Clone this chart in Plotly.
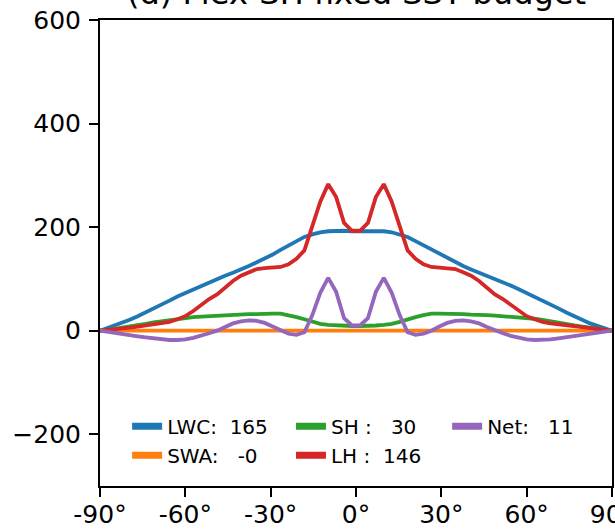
import plotly.graph_objects as go

lat = [-90, -87.86, -85.10, -82.31, -79.53, -76.74, -73.95, -71.16, -68.37, -65.58, -62.79,
       -60.00, -57.21, -54.42, -51.63, -48.84, -46.05, -43.26, -40.46, -37.67, -34.88,
       -32.09, -29.30, -26.51, -23.72, -20.93, -18.14, -15.35, -12.56, -9.77, -6.98, -4.19, -1.40,
       1.40, 4.19, 6.98, 9.77, 12.56, 15.35, 18.14, 20.93, 23.72, 26.51, 29.30, 32.09,
       34.88, 37.67, 40.46, 43.26, 46.05, 48.84, 51.63, 54.42, 57.21, 60.00, 62.79, 65.58,
       68.37, 71.16, 73.95, 76.74, 79.53, 82.31, 85.10, 87.86, 90]

lwc = [0, 4, 9, 14, 21, 28, 35, 43, 50, 58, 66, 73, 80, 87, 94, 100, 106, 112, 118, 125, 132,
       139, 147, 156, 165, 173, 181, 186, 190, 192, 193, 193, 192,
       192, 193, 193, 192, 190, 186, 181, 173, 165, 156, 147, 139, 132, 125, 118, 112, 106,
       100, 94, 87, 80, 73, 66, 58, 50, 43, 35, 28, 21, 14, 9, 4, 0]

swa = [0, 0, 0, 0, 0, 0, 0, 0, 0, 0, 0, 0, 0, 0, 0, 0, 0, 0, 0, 0, 0, 0, 0, 0, 0, 0, 0, 0, 0, 0, 0, 0, 0,
       0, 0, 0, 0, 0, 0, 0, 0, 0, 0, 0, 0, 0, 0, 0, 0, 0, 0, 0, 0, 0, 0, 0, 0, 0, 0, 0, 0, 0, 0, 0, 0, 0]

sh = [0, 1, 3, 6, 8, 10, 13, 16, 18, 21, 23, 25, 26, 27, 28, 29, 30, 31, 31, 32, 32, 33, 33, 33,
      30, 26, 22, 17, 13, 11, 10, 9, 9,
      9, 9, 10, 11, 13, 17, 22, 26, 30, 33, 33, 33, 32, 32, 31, 31, 30, 29, 28, 27, 26, 25, 23,
      21, 18, 16, 13, 10, 8, 6, 3, 1, 0]

lh = [0, 1, 2, 4, 6, 8, 10, 12, 14, 17, 22, 28, 38, 50, 61, 70, 83, 96, 106, 113, 119, 121, 122,
      123, 128, 139, 155, 201, 249, 283, 258, 208, 193,
      193, 208, 258, 283, 249, 201, 155, 139, 128, 123, 122, 121, 119, 113, 106, 96, 83, 70, 61,
      50, 38, 28, 22, 17, 14, 12, 10, 8, 6, 4, 2, 1, 0]

net = [0, -2, -4, -6, -8, -11, -13, -15, -17, -18, -18, -17, -14, -10, -5, 0, 7, 14, 18, 20, 19,
       15, 8, 0, -6, -8, -3, 30, 73, 102, 75, 24, 10,
       10, 24, 75, 102, 73, 30, -3, -8, -6, 0, 8, 15, 19, 20, 18, 14, 7, 0, -5, -10, -14, -17,
       -18, -18, -17, -15, -13, -11, -8, -6, -4, -2, 0]

series_names = ["LWC:  165", "SWA:   -0", "SH :   30", "LH :  146", "Net:   11"]
colors = ["#1f77b4", "#ff7f0e", "#2ca02c", "#d62728", "#9467bd"]
legend_ids = ["legend", "legend", "legend2", "legend2", "legend3"]

xtick_vals = [-90, -60, -30, 0, 30, 60, 90]
xtick_text = ["-90°", "-60°", "-30°", "0°", "30°", "60°", "90°"]
ytick_vals = [-200, 0, 200, 400, 600]
ytick_text = ["\u2212200", "0", "200", "400", "600"]

title_text = "(d) Flex-SH fixed SST budget"

FONT = "DejaVu Sans"

fig = go.Figure()
for ys, name, col in zip([lwc, swa, sh, lh, net], series_names, colors):
    fig.add_trace(go.Scatter(
        x=lat, y=ys, mode="lines", name=name, showlegend=False,
        line=dict(color=col, width=3.8),
    ))
# legend handles (thicker, as in the reference legend)
for name, col, lg in zip(series_names, colors, legend_ids):
    fig.add_trace(go.Scatter(
        x=[None], y=[None], mode="lines", name=name.replace(" ", "\u00a0"),
        line=dict(color=col, width=7), legend=lg, hoverinfo="skip",
    ))

leg_common = dict(orientation="v", xanchor="left", yanchor="top",
                  bgcolor="rgba(0,0,0,0)", borderwidth=0,
                  font=dict(family=FONT, size=20, color="black"),
                  tracegroupgap=0, itemwidth=30)

fig.update_layout(
    width=615, height=530,
    template="none",
    paper_bgcolor="white", plot_bgcolor="white",
    margin=dict(l=100, r=3, t=19.5, b=44, pad=0),
    font=dict(family=FONT, size=24, color="black"),
    showlegend=True,
    legend=dict(x=0.053, y=0.17, **leg_common),
    legend2=dict(x=0.373, y=0.17, **leg_common),
    legend3=dict(x=0.678, y=0.17, **leg_common),
    xaxis=dict(range=[-90, 90], tickvals=xtick_vals, ticktext=xtick_text,
               showgrid=False, zeroline=False, showline=True, mirror=True,
               linecolor="black", linewidth=2, ticks="outside", ticklen=9,
               tickwidth=2, tickcolor="black", automargin=False,
               ticklabelstandoff=-4, ticklabeloverflow="allow",
               tickfont=dict(family=FONT, size=25, color="black")),
    yaxis=dict(range=[-300, 600], tickvals=ytick_vals, ticktext=ytick_text,
               showgrid=False, zeroline=False, showline=True, mirror=True,
               linecolor="black", linewidth=2, ticks="outside", ticklen=9,
               tickwidth=2, tickcolor="black", automargin=False,
               ticklabelstandoff=3, ticklabeloverflow="allow",
               tickfont=dict(family=FONT, size=25, color="black")),
    annotations=[dict(text=title_text, x=0.5, xref="paper", y=1.0139, yref="paper",
                      xanchor="center", yanchor="bottom", showarrow=False,
                      font=dict(family=FONT, size=32, color="black"))],
)

fig.write_html("out.html", config={"displayModeBar": False},
               post_script="document.body.style.margin='0';document.body.style.overflow='hidden';")
